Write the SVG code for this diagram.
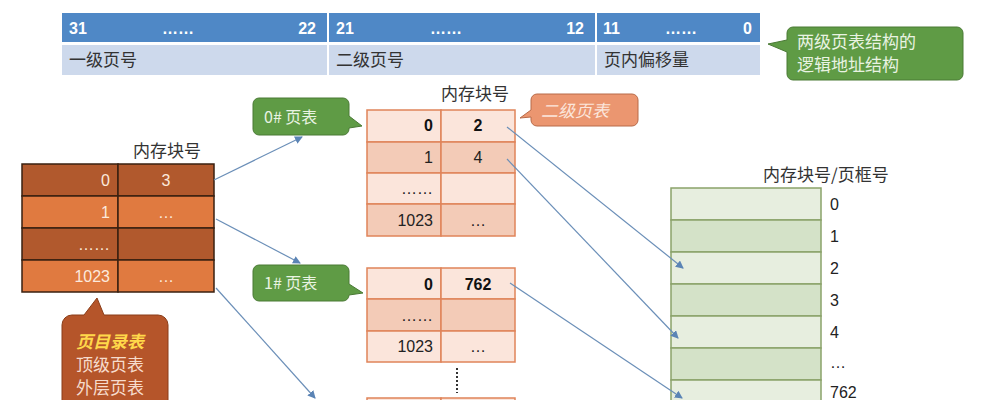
<svg xmlns="http://www.w3.org/2000/svg" width="991" height="400" viewBox="0 0 991 400">
<style>
text{font-family:"Noto Sans CJK SC","Liberation Sans",sans-serif}
.hb{fill:#fff;font-weight:bold;font-size:16px;font-family:"Liberation Sans",sans-serif}
.cn{fill:#333;font-size:17px}
.dw{fill:#fce9dc;font-size:16px;font-family:"Liberation Sans",sans-serif}
.t{fill:#222;font-size:16px;font-family:"Liberation Sans",sans-serif}
.tb{fill:#111;font-size:16px;font-weight:bold;font-family:"Liberation Sans",sans-serif}
.l1{fill:#fbe5db;stroke:#e0845a;stroke-width:1.5}
.l2{fill:#f3cbb7;stroke:#e0845a;stroke-width:1.5}
.g1{fill:#e7eedf;stroke:#8aa36a;stroke-width:1.5}
.g2{fill:#d4e2c8;stroke:#8aa36a;stroke-width:1.5}
.d1{fill:#b1592d;stroke:#3a2010;stroke-width:1.5}
.d2{fill:#e07a40;stroke:#3a2010;stroke-width:1.5}
.ar{stroke:#6b8fb8;stroke-width:1.2;fill:none;marker-end:url(#ah)}
</style>
<defs><marker id="ah" markerWidth="8" markerHeight="8" refX="7" refY="4" orient="auto" markerUnits="userSpaceOnUse"><path d="M0,0 L8,4 L0,8 z" fill="#5b84b5"/></marker></defs>
<rect width="991" height="400" fill="#fff"/>
<g id="addr">
<rect x="62" y="13" width="698" height="29" fill="#4f88c6"/>
<rect x="62" y="45" width="698" height="30" fill="#cdd9ec"/>
<line x1="328" y1="13" x2="328" y2="75" stroke="#fff" stroke-width="2"/>
<line x1="596" y1="13" x2="596" y2="75" stroke="#fff" stroke-width="2"/>
<text class="hb" x="69" y="34">31</text><text class="hb" x="162" y="34">……</text><text class="hb" x="316" y="34" text-anchor="end">22</text>
<text class="hb" x="336" y="34">21</text><text class="hb" x="430" y="34">……</text><text class="hb" x="584" y="34" text-anchor="end">12</text>
<text class="hb" x="603" y="34">11</text><text class="hb" x="665" y="34">……</text><text class="hb" x="752" y="34" text-anchor="end">0</text>
<text class="cn" x="69" y="66">一级页号</text><text class="cn" x="336" y="66">二级页号</text><text class="cn" x="604" y="66">页内偏移量</text>
</g>
<g id="addr-note">
<path d="M793,27 H957 a6,6 0 0 1 6,6 V74 a6,6 0 0 1 -6,6 H793 a6,6 0 0 1 -6,-6 V52 L768,44 L787,40 V33 a6,6 0 0 1 6,-6z" fill="#5f9b45" stroke="#4a7a35"/>
<text x="797" y="48" fill="#e9f3e2" font-size="17">两级页表结构的</text>
<text x="797" y="71" fill="#e9f3e2" font-size="17">逻辑地址结构</text>
</g>
<g id="pagedir">
<text class="cn" x="133" y="157">内存块号</text>
<rect class="d1" x="22" y="164" width="96" height="32"/><rect class="d1" x="118" y="164" width="96" height="32"/>
<rect class="d2" x="22" y="196" width="96" height="32"/><rect class="d2" x="118" y="196" width="96" height="32"/>
<rect class="d1" x="22" y="228" width="96" height="32"/><rect class="d1" x="118" y="228" width="96" height="32"/>
<rect class="d2" x="22" y="260" width="96" height="32"/><rect class="d2" x="118" y="260" width="96" height="32"/>
<text class="dw" x="110" y="186" text-anchor="end">0</text><text class="dw" x="166" y="186" text-anchor="middle">3</text>
<text class="dw" x="110" y="218" text-anchor="end">1</text><text class="dw" x="166" y="218" text-anchor="middle">…</text>
<text class="dw" x="110" y="250" text-anchor="end">……</text>
<text class="dw" x="110" y="282" text-anchor="end">1023</text><text class="dw" x="166" y="282" text-anchor="middle">…</text>
</g>
<g id="pagedir-note">
<path d="M72,315 H84 L97,298 L104,315 H158 a10,10 0 0 1 10,10 V410 H62 V325 a10,10 0 0 1 10,-10z" fill="#b5552a" stroke="#8a3d18"/>
<text x="76" y="348" fill="#ffd84a" font-size="17" font-style="italic" font-weight="bold">页目录表</text>
<text x="76" y="371" fill="#f6dccd" font-size="17">顶级页表</text>
<text x="76" y="394" fill="#f6dccd" font-size="17">外层页表</text>
</g>
<g id="pt0">
<text class="cn" x="441" y="100">内存块号</text>
<rect class="l1" x="367" y="110" width="74" height="32"/><rect class="l1" x="441" y="110" width="74" height="32"/>
<rect class="l2" x="367" y="142" width="74" height="31"/><rect class="l2" x="441" y="142" width="74" height="31"/>
<rect class="l1" x="367" y="173" width="74" height="31"/><rect class="l1" x="441" y="173" width="74" height="31"/>
<rect class="l2" x="367" y="204" width="74" height="32"/><rect class="l2" x="441" y="204" width="74" height="32"/>
<text class="tb" x="433" y="131" text-anchor="end">0</text><text class="tb" x="478" y="131" text-anchor="middle">2</text>
<text class="t" x="433" y="163" text-anchor="end">1</text><text class="t" x="478" y="163" text-anchor="middle">4</text>
<text class="t" x="433" y="194" text-anchor="end">……</text>
<text class="t" x="433" y="226" text-anchor="end">1023</text><text class="t" x="478" y="226" text-anchor="middle">…</text>
</g>
<g id="pt0-note">
<path d="M259,98 H343 a6,6 0 0 1 6,6 V116 L362,126 L349,128 V129 a6,6 0 0 1 -6,6 H259 a6,6 0 0 1 -6,-6 V104 a6,6 0 0 1 6,-6z" fill="#5f9b45" stroke="#4a7a35"/>
<text x="264" y="123" fill="#e9f3e2" font-size="16">0# 页表</text>
</g>
<g id="pt2-note">
<path d="M537,94 H632 a6,6 0 0 1 6,6 V120 a6,6 0 0 1 -6,6 H537 a6,6 0 0 1 -6,-6 V117 L520,118 L531,110 V100 a6,6 0 0 1 6,-6z" fill="#eb9670" stroke="#b86a48"/>
<text x="541" y="117" fill="#fbe6dc" font-size="17" font-style="italic">二级页表</text>
</g>
<g id="pt1">
<rect class="l1" x="367" y="268" width="74" height="31"/><rect class="l1" x="441" y="268" width="74" height="31"/>
<rect class="l2" x="367" y="299" width="74" height="32"/><rect class="l2" x="441" y="299" width="74" height="32"/>
<rect class="l1" x="367" y="331" width="74" height="31"/><rect class="l1" x="441" y="331" width="74" height="31"/>
<text class="tb" x="433" y="290" text-anchor="end">0</text><text class="tb" x="478" y="290" text-anchor="middle">762</text>
<text class="t" x="433" y="321" text-anchor="end">……</text>
<text class="t" x="433" y="352" text-anchor="end">1023</text><text class="t" x="478" y="352" text-anchor="middle">…</text>
<line x1="457" y1="368" x2="457" y2="393" stroke="#333" stroke-width="2" stroke-dasharray="2,2"/>
<rect class="l1" x="367" y="398" width="74" height="10"/><rect class="l1" x="441" y="398" width="74" height="10"/>
</g>
<g id="pt1-note">
<path d="M259,265 H343 a6,6 0 0 1 6,6 V284 L363,293 L349,295 V295 a6,6 0 0 1 -6,6 H259 a6,6 0 0 1 -6,-6 V271 a6,6 0 0 1 6,-6z" fill="#5f9b45" stroke="#4a7a35"/>
<text x="264" y="289" fill="#e9f3e2" font-size="16">1# 页表</text>
</g>
<g id="frames">
<text class="cn" x="763" y="181">内存块号/页框号</text>
<rect class="g1" x="671" y="188" width="150" height="32"/>
<rect class="g2" x="671" y="220" width="150" height="32"/>
<rect class="g1" x="671" y="252" width="150" height="32"/>
<rect class="g2" x="671" y="284" width="150" height="32"/>
<rect class="g1" x="671" y="316" width="150" height="32"/>
<rect class="g2" x="671" y="348" width="150" height="32"/>
<rect class="g1" x="671" y="380" width="150" height="32"/>
<text class="t" x="830" y="210">0</text><text class="t" x="830" y="242">1</text><text class="t" x="830" y="274">2</text>
<text class="t" x="830" y="306">3</text><text class="t" x="830" y="338">4</text><text class="t" x="830" y="368">…</text><text class="t" x="830" y="398">762</text>
</g>
<g id="connectors">
<line class="ar" x1="214" y1="180" x2="302" y2="137"/>
<line class="ar" x1="216" y1="219" x2="300" y2="263"/>
<line class="ar" x1="216" y1="288" x2="315" y2="398"/>
<line class="ar" x1="507" y1="127" x2="683" y2="268"/>
<line class="ar" x1="507" y1="159" x2="678" y2="338"/>
<line class="ar" x1="510" y1="283" x2="682" y2="398"/>
</g>
</svg>
